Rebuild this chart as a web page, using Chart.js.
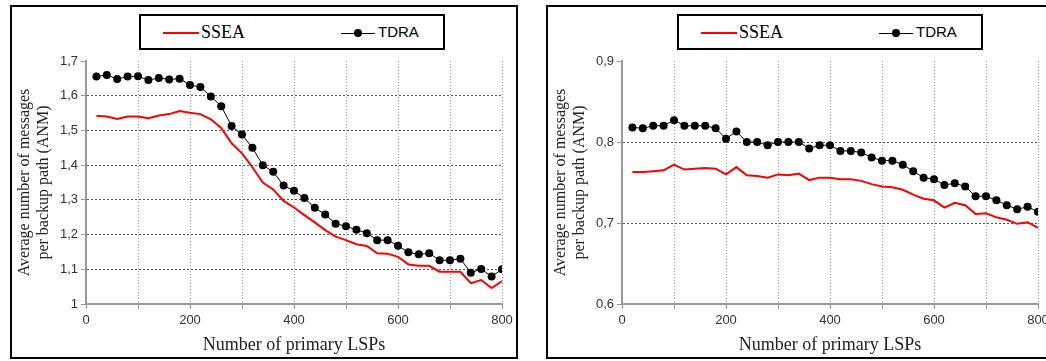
<!DOCTYPE html>
<html>
<head>
<meta charset="utf-8">
<script src="https://cdn.jsdelivr.net/npm/chart.js@4/dist/chart.umd.min.js"></script>
<style>
    html, body { margin: 0; padding: 0; background: #fff; width: 1046px; height: 361px; overflow: hidden; }
    .cv { position: absolute; top: 5px; }
    .frame { position: absolute; top: 5px; width: 508px; height: 354px; box-sizing: border-box; border: 2px solid #000; pointer-events: none; }
    .legend { position: absolute; top: 14px; width: 306px; height: 36px; box-sizing: border-box; border: 2px solid #000; background: #fff; }
    .legend .ln { position: absolute; top: 16px; height: 0; border-top: 2px solid #ff0000; }
    .legend .ln.blk { border-top: 1px solid #000; top: 17px; }
    .legend .dot { position: absolute; top: 13px; width: 8px; height: 8px; border-radius: 50%; background: #000; }
    .legend .txt { position: absolute; top: 0; line-height: 32px; color: #000; }
    .serif { font-family: "Liberation Serif", "Times New Roman", serif; font-size: 18px; }
    .sans { font-family: "Liberation Sans", Arial, sans-serif; font-size: 15px; }
</style>
</head>
<body>
<canvas id="chartLeft" class="cv" width="508" height="354" style="left:10px"></canvas>
<div class="frame" style="left:10px"></div>
<div class="legend" style="left:139px">
    <div class="ln" style="left:22px;width:36px"></div>
    <div class="txt serif" style="left:60px">SSEA</div>
    <div class="ln blk" style="left:200px;width:34px"></div>
    <div class="dot" style="left:213px"></div>
    <div class="txt sans" style="left:237px">TDRA</div>
</div>

<canvas id="chartRight" class="cv" width="508" height="354" style="left:546px"></canvas>
<div class="frame" style="left:546px"></div>
<div class="legend" style="left:677px">
    <div class="ln" style="left:22px;width:36px"></div>
    <div class="txt serif" style="left:60px">SSEA</div>
    <div class="ln blk" style="left:200px;width:34px"></div>
    <div class="dot" style="left:213px"></div>
    <div class="txt sans" style="left:237px">TDRA</div>
</div>

<script>
    var primaryLsps = [20, 40, 60, 80, 100, 120, 140, 160, 180, 200,
        220, 240, 260, 280, 300, 320, 340, 360, 380, 400,
        420, 440, 460, 480, 500, 520, 540, 560, 580, 600,
        620, 640, 660, 680, 700, 720, 740, 760, 780, 800];

    var xTickLabels = [0, 200, 400, 600, 800];

    // left panel
    var sseaLeft = [1.542, 1.540, 1.533, 1.540, 1.540, 1.535, 1.543, 1.547, 1.556, 1.551,
        1.547, 1.532, 1.507, 1.463, 1.434, 1.394, 1.350, 1.330, 1.297, 1.278,
        1.256, 1.235, 1.213, 1.194, 1.184, 1.172, 1.167, 1.146, 1.145, 1.136,
        1.114, 1.110, 1.110, 1.093, 1.093, 1.093, 1.060, 1.069, 1.046, 1.066];
    var tdraLeft = [1.655, 1.660, 1.648, 1.655, 1.656, 1.645, 1.651, 1.647, 1.649, 1.631,
        1.625, 1.598, 1.570, 1.513, 1.488, 1.450, 1.400, 1.381, 1.341, 1.326,
        1.305, 1.277, 1.258, 1.231, 1.224, 1.214, 1.204, 1.184, 1.184, 1.168,
        1.149, 1.143, 1.146, 1.126, 1.126, 1.130, 1.090, 1.101, 1.079, 1.100];

    // right panel
    var sseaRight = [0.763, 0.763, 0.764, 0.765, 0.772, 0.766, 0.767, 0.768, 0.767, 0.760,
        0.769, 0.759, 0.758, 0.756, 0.760, 0.759, 0.761, 0.753, 0.756, 0.756,
        0.754, 0.754, 0.752, 0.748, 0.745, 0.744, 0.741, 0.735, 0.730, 0.728,
        0.719, 0.725, 0.722, 0.711, 0.712, 0.707, 0.704, 0.699, 0.701, 0.694];
    var tdraRight = [0.818, 0.817, 0.820, 0.820, 0.827, 0.820, 0.820, 0.820, 0.817, 0.804,
        0.813, 0.800, 0.800, 0.796, 0.800, 0.800, 0.800, 0.792, 0.796, 0.796,
        0.789, 0.789, 0.787, 0.781, 0.777, 0.777, 0.772, 0.764, 0.756, 0.754,
        0.747, 0.749, 0.745, 0.733, 0.733, 0.728, 0.722, 0.717, 0.720, 0.714];

    function toPoints(values) {
        return primaryLsps.map(function (x, i) {
            return {x: x, y: values[i]};
        });
    }

    function fmtComma(v) {
        return String(Number(v.toFixed(1))).replace('.', ',');
    }

    function makeChart(id, ssea, tdra, yMin, yMax) {
        var ctx = document.getElementById(id).getContext('2d');
        return new Chart(ctx, {
            type: 'line',
            data: {
                datasets: [{
                    label: 'TDRA',
                    data: toPoints(tdra),
                    borderColor: '#000',
                    backgroundColor: '#000',
                    borderWidth: 1,
                    pointRadius: 4,
                    pointBorderWidth: 0,
                    tension: 0
                }, {
                    label: 'SSEA',
                    data: toPoints(ssea),
                    borderColor: '#ff0000',
                    borderWidth: 2,
                    pointRadius: 0,
                    tension: 0
                }]
            },
            options: {
                responsive: false,
                animation: false,
                layout: {padding: {top: 56, right: 16, left: 0, bottom: 0}},
                plugins: {legend: {display: false}, tooltip: {enabled: false}},
                scales: {
                    x: {
                        type: 'linear',
                        min: 0,
                        max: 800,
                        afterFit: function (axis) { axis.height = 55; },
                        ticks: {
                            stepSize: 100,
                            autoSkip: false,
                            maxRotation: 0,
                            padding: 4,
                            color: '#333',
                            font: {family: 'Liberation Sans', size: 13},
                            callback: function (v) {
                                return xTickLabels.indexOf(v) >= 0 ? String(v) : '';
                            }
                        },
                        grid: {
                            color: '#999',
                            tickColor: '#999',
                            tickLength: 5
                        },
                        border: {color: '#999', width: 2, dash: [1, 2]},
                        title: {
                            display: true,
                            text: 'Number of primary LSPs',
                            color: '#222',
                            font: {family: 'Liberation Serif', size: 18, lineHeight: 1.2},
                            padding: {top: 0, bottom: 3}
                        }
                    },
                    y: {
                        min: yMin,
                        max: yMax,
                        afterFit: function (axis) { axis.width = 76; },
                        ticks: {
                            stepSize: 0.1,
                            padding: 3,
                            color: '#333',
                            font: {family: 'Liberation Sans', size: 13},
                            callback: function (v) { return fmtComma(v); }
                        },
                        grid: {
                            color: function (c) {
                                return (c.tick && Math.abs(c.tick.value - yMax) < 1e-6) ? 'rgba(0,0,0,0)' : '#555';
                            },
                            tickColor: '#999',
                            tickLength: 5
                        },
                        border: {color: '#999', width: 2, dash: [2, 2]},
                        title: {
                            display: true,
                            text: ['Average number of messages', 'per backup path (ANM)'],
                            color: '#222',
                            font: {family: 'Liberation Serif', size: 16, lineHeight: 1.15},
                            padding: {top: 6, bottom: 0}
                        }
                    }
                }
            }
        });
    }

    makeChart('chartLeft', sseaLeft, tdraLeft, 1.0, 1.7);
    makeChart('chartRight', sseaRight, tdraRight, 0.6, 0.9);
</script>
</body>
</html>
